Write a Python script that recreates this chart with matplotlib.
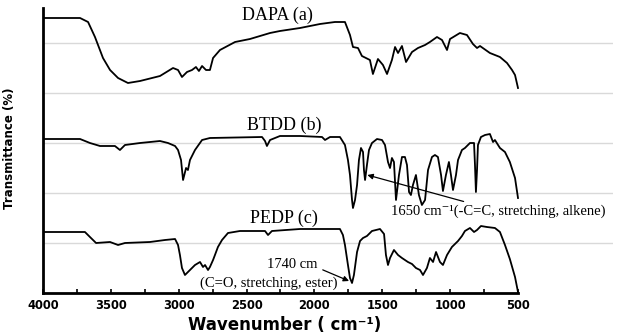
import matplotlib
matplotlib.use("Agg")
import matplotlib.pyplot as plt
import numpy as np

# ---- data (wavenumber in cm^-1, transmittance in arbitrary offset units) ----
dapa_w = [4000, 3727, 3668, 3617, 3558, 3506, 3447, 3374, 3285, 3138, 3042, 3005, 2976,
          2939, 2902, 2873, 2851, 2828, 2799, 2770, 2747, 2696, 2585, 2475, 2327, 2254,
          2106, 1959, 1849, 1775, 1738, 1716, 1679, 1650, 1591, 1569, 1532, 1495, 1465,
          1429, 1406, 1384, 1355, 1325, 1281, 1237, 1185, 1149, 1097, 1060, 1023, 1001,
          928, 876, 832, 802, 780, 707, 633, 581, 544, 522, 500]
dapa_t = [275, 275, 271, 256, 235, 223, 215, 210, 212, 217, 225, 223, 216,
          221, 223, 226, 222, 227, 223, 223, 235, 243, 251, 254, 260, 262,
          265, 269, 271, 271, 258, 246, 245, 237, 233, 219, 234, 228, 219,
          233, 246, 240, 247, 231, 241, 245, 248, 251, 256, 253, 243, 254,
          260, 258, 249, 245, 247, 240, 236, 230, 223, 218, 205]

btdd_w = [4000, 3727, 3654, 3580, 3470, 3433, 3396, 3285, 3138, 3079, 3027, 3005, 2983,
          2968, 2946, 2932, 2917, 2880, 2828, 2770, 2386, 2364, 2350, 2327, 2254, 2106,
          1944, 1922, 1885, 1812, 1775, 1753, 1738, 1723, 1716, 1701, 1686, 1672, 1657,
          1642, 1635, 1627, 1613, 1598, 1576, 1539, 1502, 1480, 1458, 1443, 1429, 1414,
          1399, 1377, 1355, 1333, 1318, 1303, 1289, 1274, 1252, 1230, 1208, 1185, 1163,
          1134, 1112, 1090, 1067, 1053, 1031, 1009, 994, 979, 957, 942, 913, 891, 854,
          824, 817, 810, 802, 795, 773, 743, 707, 684, 670, 633, 596, 560, 522, 500]
btdd_t = [154, 154, 150, 147, 147, 143, 148, 150, 152, 150, 147, 143, 133,
          113, 125, 123, 133, 143, 153, 155, 156, 152, 147, 153, 157, 157,
          156, 153, 156, 156, 148, 133, 118, 93, 85, 93, 108, 133, 145,
          141, 123, 113, 128, 143, 150, 154, 153, 148, 131, 125, 135, 131,
          93, 118, 136, 136, 128, 101, 98, 108, 118, 98, 88, 93, 123,
          136, 138, 136, 118, 102, 118, 131, 118, 103, 118, 133, 143, 145, 150,
          150, 128, 101, 123, 148, 156, 158, 159, 151, 153, 145, 141, 131, 115, 95]

pedp_w = [4000, 3691, 3654, 3609, 3506, 3447, 3396, 3212, 3101, 3027, 3005, 2991, 2976,
          2954, 2917, 2880, 2843, 2821, 2806, 2784, 2770, 2747, 2733, 2711, 2681, 2637,
          2549, 2364, 2342, 2313, 2106, 1812, 1790, 1775, 1753, 1738, 1723, 1709, 1686,
          1664, 1642, 1613, 1576, 1517, 1487, 1473, 1458, 1443, 1414, 1384, 1355, 1311,
          1281, 1252, 1222, 1200, 1171, 1149, 1126, 1104, 1075, 1053, 1023, 987, 942,
          913, 891, 854, 824, 802, 773, 729, 670, 633, 596, 560, 522, 500]
pedp_t = [61, 61, 56, 50, 51, 48, 50, 51, 53, 54, 48, 38, 25,
          18, 23, 28, 31, 26, 28, 23, 26, 33, 38, 46, 53, 60,
          62, 62, 58, 62, 64, 64, 58, 48, 28, 15, 10, 18, 41,
          52, 55, 57, 62, 64, 59, 38, 28, 35, 43, 38, 35, 31,
          29, 25, 23, 18, 25, 35, 31, 41, 31, 28, 38, 46, 52,
          57, 62, 65, 61, 63, 67, 66, 65, 61, 48, 34, 16, 1]

series_labels = ["DAPA (a)", "BTDD (b)", "PEDP (c)"]
major_ticks = [4000, 3500, 3000, 2500, 2000, 1500, 1000, 500]

# ---- figure ----
fig = plt.figure(figsize=(6.18, 3.34), dpi=100)
ax = fig.add_axes([43/618, 41/334, 570/618, 285/334])

for w, t in [(dapa_w, dapa_t), (btdd_w, btdd_t), (pedp_w, pedp_t)]:
    ax.plot(w, t, color="black", lw=1.3, zorder=3)

ax.set_xlim(4000, -200)
ax.set_ylim(0, 285)

# grid lines
ax.set_yticks([50, 100, 150, 200, 250])
ax.yaxis.grid(True, color="#d9d9d9", lw=1.0)
ax.tick_params(axis="y", length=0, labelleft=False)

ax.set_xticks(major_ticks)
ax.set_xticks(np.arange(3750, 500, -500), minor=True)
ax.tick_params(axis="x", which="both", direction="in", length=3, width=1.2, pad=4)
for lab in ax.get_xticklabels():
    lab.set_fontweight("bold")
    lab.set_fontsize(8.3)
    lab.set_family("DejaVu Sans")

for s in ["top", "right"]:
    ax.spines[s].set_visible(False)
ax.spines["left"].set_linewidth(2)
ax.spines["bottom"].set_linewidth(2)
ax.spines["bottom"].set_bounds(4000, 500)

# series labels
serif = ["Liberation Serif", "DejaVu Serif"]
ax.text(2534, 278, series_labels[0], family=serif, fontsize=13, va="center", ha="left")
ax.text(2497, 168, series_labels[1], family=serif, fontsize=13, va="center", ha="left")
ax.text(2475, 75, series_labels[2], family=serif, fontsize=13, va="center", ha="left")

# annotations
ax.annotate("1650 cm\u207b\u00b9(-C=C, stretching, alkene)", xy=(1610, 118), xytext=(1436, 82),
            family=serif, fontsize=10.5, va="center", ha="left",
            arrowprops=dict(arrowstyle="-|>", color="black", lw=0.9, mutation_scale=8,
                            shrinkA=0, shrinkB=0), zorder=4)
ax.annotate("1740 cm", xy=(1745, 12), xytext=(2350, 28),
            family=serif, fontsize=10.5, va="center", ha="left",
            arrowprops=dict(arrowstyle="-|>", color="black", lw=0.9, mutation_scale=8,
                            shrinkA=2, shrinkB=0,
                            relpos=(1.0, 0.3)), zorder=4)
ax.text(2843, 10, "(C=O, stretching, ester)", family=serif, fontsize=10.5, va="center", ha="left")

# axis labels
fig.text(285/618, 1 - 325/334, "Wavenumber ( cm\u207b\u00b9)", fontsize=12, fontweight="bold",
         ha="center", va="center")
fig.text(10/618, 1 - 148/334, "Transmittance (%)", fontsize=8.5, fontweight="bold",
         rotation=90, ha="center", va="center")

fig.savefig("out.png", dpi=100)
